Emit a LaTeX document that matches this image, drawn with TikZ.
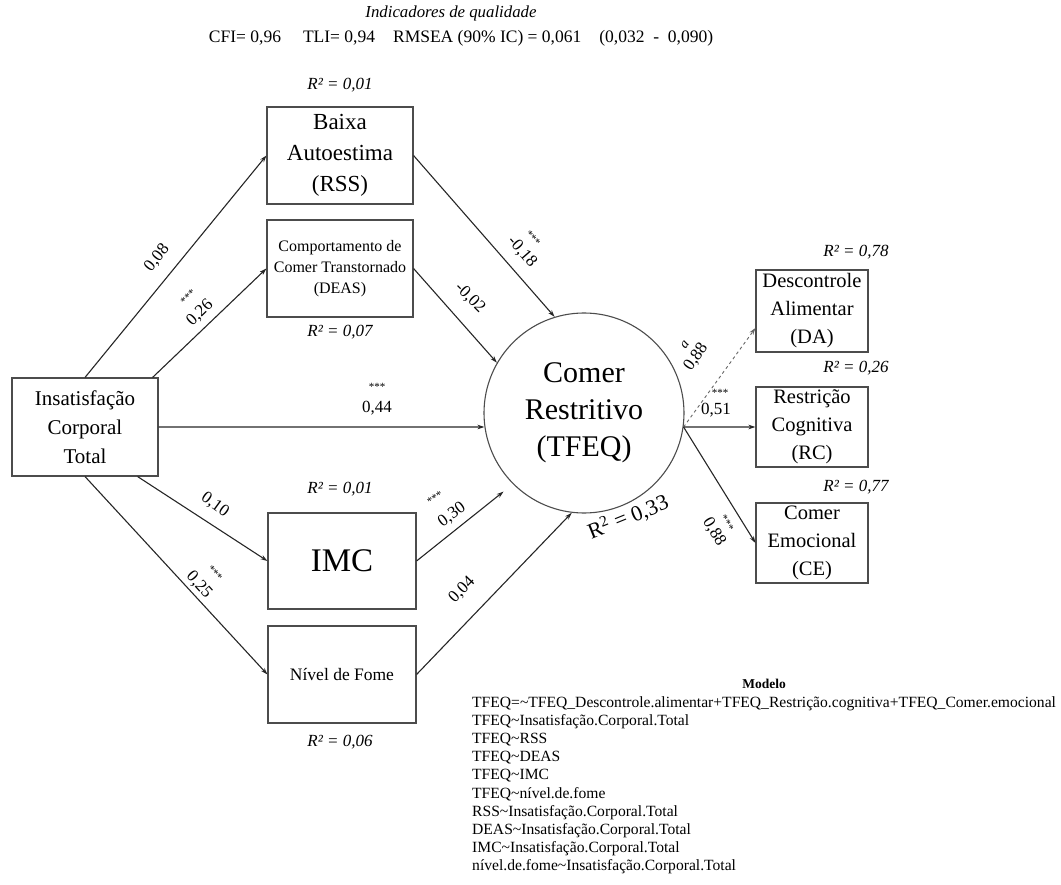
\documentclass[tikz,border=0pt]{standalone}
\usepackage{fontspec}
\setmainfont{Liberation Serif}
\usetikzlibrary{arrows.meta,calc}

\begin{document}
\begin{tikzpicture}[x=1pt,y=-1pt,
  box/.style={draw=black!70, line width=1.1pt, align=center, inner sep=0pt},
  arr/.style={draw=black!85, line width=1.1pt, -{Stealth[length=7pt,width=4.5pt]}},
  coef/.style={font=\fontsize{17}{18}\selectfont, inner sep=0pt},
  stars/.style={font=\fontsize{11}{12}\selectfont, inner sep=0pt},
  rsq/.style={font=\fontsize{17}{20}\selectfont\itshape, inner sep=0pt}]
\useasboundingbox (0,0) rectangle (1061,885);

% fit indices
\node[font=\fontsize{16.8}{18}\selectfont\itshape] (hdr) at (451,13) {Indicadores de qualidade};
\node[font=\fontsize{17.5}{19}\selectfont] (fit) at (461,38)
  {CFI= 0,96\hspace{22pt}TLI= 0,94\hspace{18pt}RMSEA (90\% IC) = 0,061\hspace{18pt}(0,032 \ - \ 0,090)};

% observed variables
\node[box, minimum width=146pt, minimum height=98pt, font=\fontsize{21}{29}\selectfont] (ins) at (85,427) {Insatisfação\\Corporal\\Total};
\node[box, minimum width=146pt, minimum height=97pt, font=\fontsize{23}{31}\selectfont] (rss) at (340,155.5) {Baixa\\Autoestima\\(RSS)};
\node[box, minimum width=146pt, minimum height=97pt, font=\fontsize{16}{21}\selectfont] (deas) at (340,268.5) {Comportamento de\\Comer Transtornado\\(DEAS)};
\node[box, minimum width=148pt, minimum height=96pt, font=\fontsize{33}{36}\selectfont] (imc) at (342,561) {IMC};
\node[box, minimum width=148pt, minimum height=97pt, font=\fontsize{17.5}{20}\selectfont] (fome) at (342,674.5) {Nível de Fome};

% latent factor and its indicators
\node[box, circle, minimum size=200pt, font=\fontsize{30}{37}\selectfont] (tfeq) at (584,413) {Comer\\Restritivo\\(TFEQ)};
\node[box, minimum width=112pt, minimum height=82pt, font=\fontsize{20.5}{28}\selectfont] (da) at (812,311) {Descontrole\\Alimentar\\(DA)};
\node[box, minimum width=112pt, minimum height=80pt, font=\fontsize{20.5}{28}\selectfont] (rc) at (812,427) {Restrição\\Cognitiva\\(RC)};
\node[box, minimum width=112pt, minimum height=80pt, font=\fontsize{20.5}{28}\selectfont] (ce) at (812,543) {Comer\\Emocional\\(CE)};

% explained variance
\node[rsq] (r2rss) at (340,85) {R² = 0,01};
\node[rsq] (r2deas) at (340,332) {R² = 0,07};
\node[rsq] (r2imc) at (340,489) {R² = 0,01};
\node[rsq] (r2fome) at (340,742) {R² = 0,06};
\node[rsq] (r2da) at (856,252) {R² = 0,78};
\node[rsq] (r2rc) at (856,368) {R² = 0,26};
\node[rsq] (r2ce) at (856,487) {R² = 0,77};
\node[font=\fontsize{22}{24}\selectfont, rotate=22, inner sep=0pt] (r2tfeq) at (628,517) {R\textsuperscript{2} = 0,33};

% paths
\draw[arr] (ins.north) -- (rss.west);
\draw[arr] ($(ins.north east)+(-6,0)$) -- (deas.west);
\draw[arr] (ins.east) -- (tfeq.188);
\draw[arr] ($(ins.south east)+(-21,0)$) -- (imc.west);
\draw[arr] (ins.south) -- (fome.west);
\draw[arr] (rss.east) -- (tfeq.107);
\draw[arr] (deas.east) -- (tfeq.150);
\draw[arr, shorten >=12pt] (imc.east) -- (tfeq.225);
\draw[arr] (fome.east) -- (tfeq.-97);
\draw[arr, draw=black!60, dashed, line width=0.9pt] (tfeq.-8) -- ([yshift=-17pt]da.west);
\draw[arr] (tfeq.-8) -- (rc.west);
\draw[arr] (tfeq.-8) -- (ce.west);

% path coefficients
\node[coef, rotate=51] (c1) at (157,258) {0,08};
\node[stars, rotate=44] (s2) at (188,297) {***};
\node[coef, rotate=44] (c2) at (200,313) {0,26};
\node[stars] (s3) at (377,387) {***};
\node[coef] (c3) at (377,408) {0,44};
\node[coef, rotate=-36] (c4) at (215,505) {0,10};
\node[stars, rotate=-48] (s5) at (215,573) {***};
\node[coef, rotate=-48] (c5) at (199,585) {0,25};
\node[stars, rotate=-49] (s6) at (533,238) {***};
\node[coef, rotate=-49] (c6) at (522,252) {-0,18};
\node[coef, rotate=-45] (c7) at (470,298) {-0,02};
\node[stars, rotate=36] (s8) at (435,498) {***};
\node[coef, rotate=36] (c8) at (452,515) {0,30};
\node[coef, rotate=46] (c9) at (462,590) {0,04};
\node[coef, font=\fontsize{14}{15}\selectfont\itshape, rotate=55] (a10) at (685,345) {a};
\node[coef, rotate=55] (c10) at (696,357) {0,88};
\node[stars] (s11) at (720,393) {***};
\node[coef] (c11) at (716,410) {0,51};
\node[stars, rotate=-59] (s12) at (727,523) {***};
\node[coef, rotate=-59] (c12) at (714,532) {0,88};

% model syntax
\node[font=\bfseries\fontsize{13.5}{16}\selectfont] (mtitle) at (764,684) {Modelo};
\node[anchor=north west, align=left, inner sep=0pt, font=\fontsize{15.6}{18.2}\selectfont] (mtext) at (472,696)
 {TFEQ=\textasciitilde TFEQ\_Descontrole.alimentar+TFEQ\_Restrição.cognitiva+TFEQ\_Comer.emocional\\
  TFEQ\textasciitilde Insatisfação.Corporal.Total\\
  TFEQ\textasciitilde RSS\\
  TFEQ\textasciitilde DEAS\\
  TFEQ\textasciitilde IMC\\
  TFEQ\textasciitilde nível.de.fome\\
  RSS\textasciitilde Insatisfação.Corporal.Total\\
  DEAS\textasciitilde Insatisfação.Corporal.Total\\
  IMC\textasciitilde Insatisfação.Corporal.Total\\
  nível.de.fome\textasciitilde Insatisfação.Corporal.Total};
\end{tikzpicture}
\end{document}
